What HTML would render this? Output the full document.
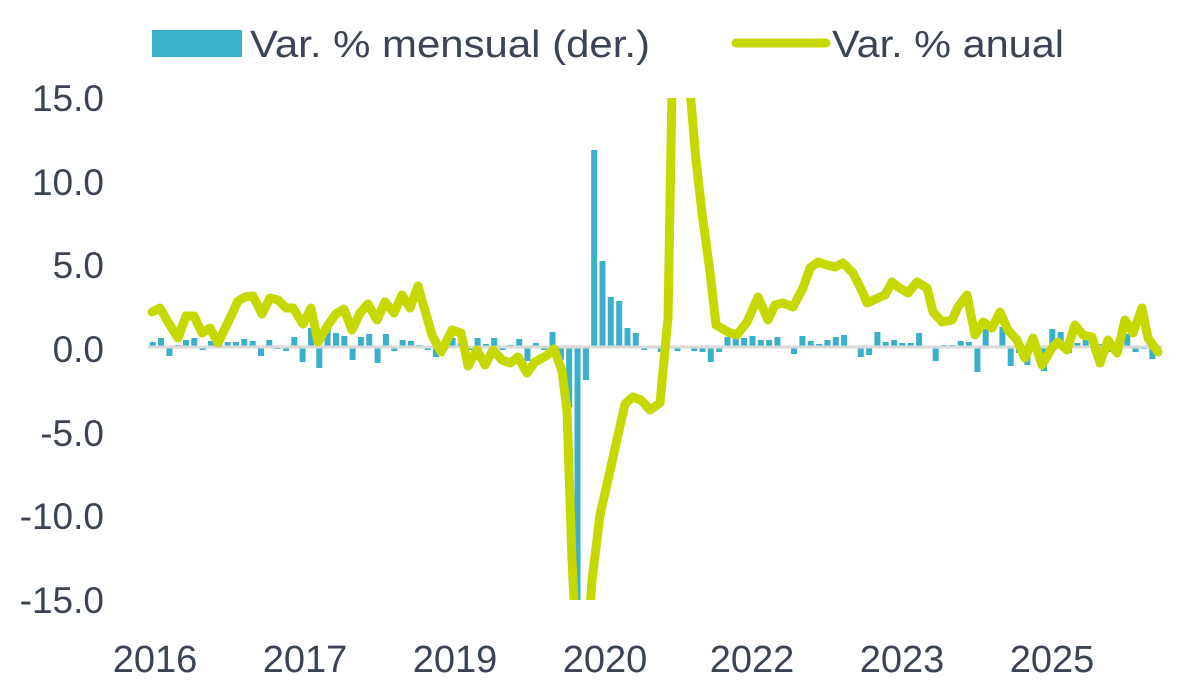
<!DOCTYPE html>
<html><head><meta charset="utf-8"><style>
body{margin:0;background:#fff;width:1195px;height:689px;overflow:hidden}
text{font-family:"Liberation Sans",sans-serif;fill:#3b4454}
</style></head><body>
<svg id="s" width="1195" height="689" viewBox="0 0 1195 689">
<defs><clipPath id="c"><rect x="140" y="98" width="1040" height="502"/></clipPath></defs>
<rect x="152" y="30" width="90" height="27" fill="#3bb0ca"/>
<text x="250" y="57" font-size="38" textLength="400" lengthAdjust="spacingAndGlyphs">Var. % mensual (der.)</text>
<line x1="736" y1="43" x2="826" y2="43" stroke="#c5d800" stroke-width="9" stroke-linecap="round"/>
<text x="832" y="57" font-size="38" textLength="232" lengthAdjust="spacingAndGlyphs">Var. % anual</text>
<g font-size="37" text-anchor="end">
<text x="104" y="111">15.0</text>
<text x="104" y="195">10.0</text>
<text x="104" y="278">5.0</text>
<text x="104" y="362">0.0</text>
<text x="104" y="446">-5.0</text>
<text x="104" y="529">-10.0</text>
<text x="104" y="613">-15.0</text>
</g>
<g font-size="38" text-anchor="middle">
<text x="155" y="672">2016</text><text x="305" y="672">2017</text><text x="455" y="672">2019</text>
<text x="605" y="672">2020</text><text x="752" y="672">2022</text><text x="902" y="672">2023</text><text x="1052" y="672">2025</text>
</g>
<g id="bars" clip-path="url(#c)" fill="#3bb0ca"></g>
<line x1="148" y1="347" x2="1162" y2="347" stroke="#d9d9d9" stroke-width="3"/>
<polyline clip-path="url(#c)" fill="none" stroke="#c5d800" stroke-width="9" stroke-linejoin="round" stroke-linecap="round" points="152,312 160,308 168,322 178,338 186,316 194,316 202,333 210,328 218,343 232,314 238,301 245,297 253,296 262,314 270,298 278,300 286,308 293,308 303,324 311,308 318,342 328,325 336,314 344,309 352,330 360,313 368,304 377,320 385,302 394,313 402,295 410,308 418,286 432,335 441,352 452,330 461,333 468,366 477,350 485,365 493,350 502,360 510,363 518,357 527,373 535,362 546,356 554,349 562,371 567,410 572,560 576,640 588,640 592,580 600,515 612,462 625,404 633,397 641,400 650,410 660,403 668,318 672,90 690,90 696,160 702,213 710,272 716,325 730,333 737,335 747,322 758,297 768,320 775,305 783,303 793,307 803,288 810,268 818,262 827,265 835,267 843,263 853,273 863,293 867,303 880,297 885,295 892,282 898,287 908,293 917,282 927,288 933,312 942,322 952,320 958,307 967,295 975,335 983,322 992,328 1000,312 1008,330 1017,340 1025,358 1033,338 1042,365 1052,348 1058,342 1067,350 1075,325 1083,335 1092,337 1100,363 1108,340 1117,353 1125,320 1133,333 1142,308 1148,338 1158,352"/>
</svg>
<script>
var v=[5,9,-9,2,7,9,-3,6,6,5,5,8,6,-9,7,-2,-4,10,-15,19,-21,20,14,11,-13,10,13,-16,13,-4,7,6,2,-3,-10,-4,9,4,-3,9,3,9,-3,2,8,-14,4,-3,15,-13,-60,-260,-33,197,86,50,46,19,14,-3,1,-5,0,-4,1,-4,-5,-15,-5,10,10,9,11,7,7,10,0,-7,11,6,3,7,10,12,1,-10,-8,15,5,7,4,4,14,1,-14,2,2,6,5,-25,18,1,20,-19,-6,-18,3,-24,18,15,-6,4,7,-4,3,-5,5,13,-5,-2,-12];
var g=document.getElementById('bars'),h='';
for(var i=0;i<v.length;i++){var x=149.7+i*8.33,y=v[i]>0?347-v[i]:347,hh=Math.abs(v[i]);
h+='<rect x="'+x.toFixed(1)+'" y="'+y+'" width="6" height="'+hh+'"/>';}
g.innerHTML=h;
</script>
</body></html>
